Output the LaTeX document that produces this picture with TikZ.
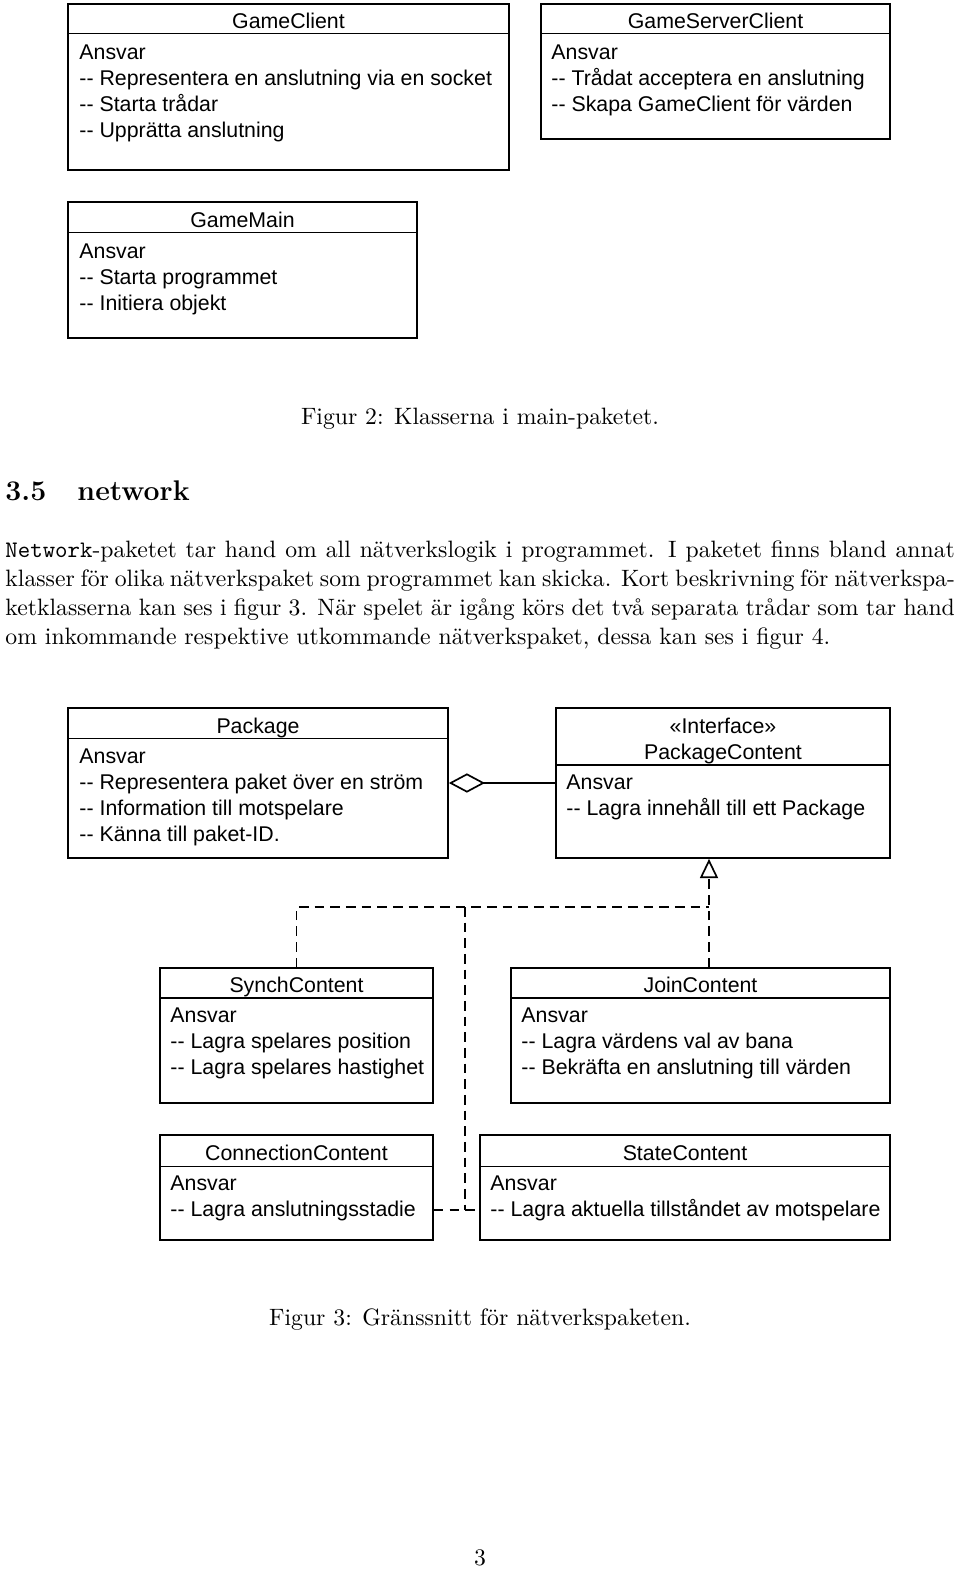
\documentclass[tikz,border=0pt]{standalone}
\usepackage{fontspec}
\newfontfamily\umlfont{Liberation Sans}
\usetikzlibrary{fit, arrows.meta}

\tikzset{
  classbox/.style={draw, line width=0.7pt, inner sep=0pt},
  classname/.style={font=\umlfont\fontsize{8.85}{10.8}\selectfont, anchor=base, inner sep=0pt},
  classtext/.style={font=\umlfont\fontsize{8.85}{10.8}\selectfont, align=left, anchor=north west, inner sep=0pt},
  bodytext/.style={font=\fontsize{9.83}{12}\selectfont, inner sep=0pt},
  realize/.style={line width=0.7pt, dash pattern=on 4pt off 2.5pt},
}

\begin{document}
\begin{tikzpicture}[x=0.415pt, y=-0.415pt]
  \path[use as bounding box, fill=white] (0,0) rectangle (960,1569);

  % Figur 2
  \node[classbox, fit={(68,4) (509,170)}] (client) {};
  \node[classname] (clientname) at (client.north |- 0,28.5) {GameClient};
  \draw[line width=0.7pt] (client.west |- 0,33.5) -- (client.east |- 0,33.5);
  \node[classtext] (clienttext) at (79,44.5) {Ansvar\\-{}- Representera en anslutning via en socket\\-{}- Starta trådar\\-{}- Upprätta anslutning};

  \node[classbox, fit={(541,4) (890,139)}] (server) {};
  \node[classname] (servername) at (server.north |- 0,28.5) {GameServerClient};
  \draw[line width=0.7pt] (server.west |- 0,33.5) -- (server.east |- 0,33.5);
  \node[classtext] (servertext) at (551,44.5) {Ansvar\\-{}- Trådat acceptera en anslutning\\-{}- Skapa GameClient för värden};

  \node[classbox, fit={(68,202) (417,338)}] (main) {};
  \node[classname] (mainname) at (main.north |- 0,227.5) {GameMain};
  \draw[line width=0.7pt] (main.west |- 0,232.5) -- (main.east |- 0,232.5);
  \node[classtext] (maintext) at (79,243.5) {Ansvar\\-{}- Starta programmet\\-{}- Initiera objekt};

  \node[bodytext, anchor=base] (fig2) at (480,424) {Figur 2: Klasserna i main-paketet.};

  % avsnitt 3.5
  \node[anchor=base west, inner sep=0pt, font=\fontsize{11.8}{14}\selectfont\bfseries] (secnum) at (5,500) {3.5};
  \node[anchor=base west, inner sep=0pt, font=\fontsize{11.8}{14}\selectfont\bfseries] (sectitle) at (77,500) {network};

  \node[bodytext, text width=394pt, align=justify, anchor=north west] (para) at (5,540.3)
    {\texttt{Network}-paketet tar hand om all nätverkslogik i programmet. I paketet finns bland annat\linebreak
     klasser för olika nätverkspaket som programmet kan skicka. Kort beskrivning för nätverkspa-\linebreak
     ketklasserna kan ses i figur 3. När spelet är igång körs det två separata trådar som tar hand\linebreak
     om inkommande respektive utkommande nätverkspaket, dessa kan ses i figur 4.};

  % Figur 3
  \node[classbox, fit={(68,708) (448,858)}] (package) {};
  \node[classname] (packagename) at (package.north |- 0,733.5) {Package};
  \draw[line width=0.7pt] (package.west |- 0,738.5) -- (package.east |- 0,738.5);
  \node[classtext] (packagetext) at (79,748.4) {Ansvar\\-{}- Representera paket över en ström\\-{}- Information till motspelare\\-{}- Känna till paket-ID.};

  \node[classbox, fit={(556,708) (890,858)}] (content) {};
  \node[classname] (interface) at (content.north |- 0,733.5) {«Interface»};
  \node[classname] (contentname) at (content.north |- 0,759.5) {PackageContent};
  \draw[line width=0.7pt] (content.west |- 0,765) -- (content.east |- 0,765);
  \node[classtext] (contenttext) at (566,774.4) {Ansvar\\-{}- Lagra innehåll till ett Package};

  \node[classbox, fit={(160,968) (433,1103)}] (synch) {};
  \node[classname] (synchname) at (synch.north |- 0,992.6) {SynchContent};
  \draw[line width=0.7pt] (synch.west |- 0,998) -- (synch.east |- 0,998);
  \node[classtext] (synchtext) at (170,1007.4) {Ansvar\\-{}- Lagra spelares position\\-{}- Lagra spelares hastighet};

  \node[classbox, fit={(511,968) (890,1103)}] (join) {};
  \node[classname] (joinname) at (join.north |- 0,992.6) {JoinContent};
  \draw[line width=0.7pt] (join.west |- 0,998) -- (join.east |- 0,998);
  \node[classtext] (jointext) at (521,1007.4) {Ansvar\\-{}- Lagra värdens val av bana\\-{}- Bekräfta en anslutning till värden};

  \node[classbox, fit={(160,1135) (433,1240)}] (connection) {};
  \node[classname] (connectionname) at (connection.north |- 0,1160.6) {ConnectionContent};
  \draw[line width=0.7pt] (connection.west |- 0,1166.5) -- (connection.east |- 0,1166.5);
  \node[classtext] (connectiontext) at (170,1175.4) {Ansvar\\-{}- Lagra anslutningsstadie};

  \node[classbox, fit={(480,1135) (890,1240)}] (state) {};
  \node[classname] (statename) at (state.north |- 0,1160.6) {StateContent};
  \draw[line width=0.7pt] (state.west |- 0,1166.5) -- (state.east |- 0,1166.5);
  \node[classtext] (statetext) at (490,1175.4) {Ansvar\\-{}- Lagra aktuella tillståndet av motspelare};

  \draw[line width=0.7pt, -{Diamond[open, length=15pt, width=8pt]}] (content.west) -- (package.east);

  \coordinate (hub) at (709,907);
  \coordinate (split) at (465,907);
  \coordinate (corner) at (465,1210);
  \draw[realize, -{Triangle[open, length=8pt, width=7.5pt]}] (join.north -| hub) -- (content.south -| hub);
  \draw[realize] (synch.north) -- (synch.north |- hub) -- (hub);
  \draw[realize] (split) -- (corner);
  \draw[realize] (connection.east |- corner) -- (state.west |- corner);

  \node[bodytext, anchor=base] (fig3) at (480,1325) {Figur 3: Gränssnitt för nätverkspaketen.};
  \node[bodytext, anchor=base] (pagenum) at (480,1565) {3};
\end{tikzpicture}
\end{document}
